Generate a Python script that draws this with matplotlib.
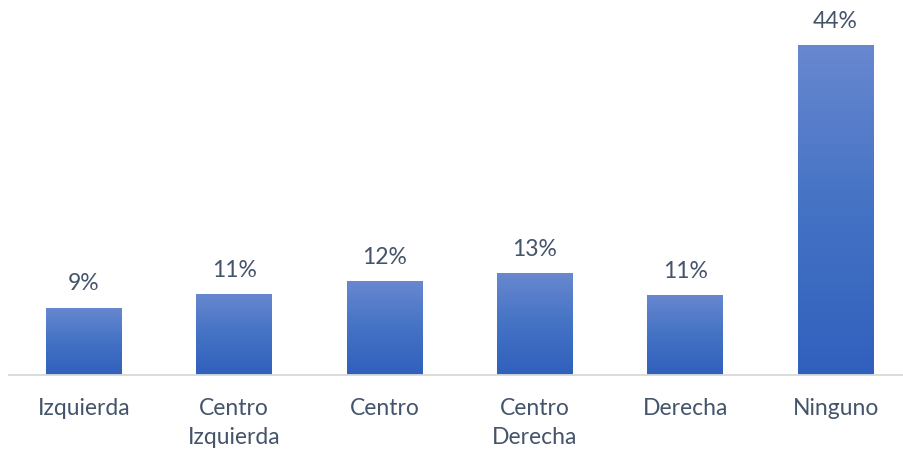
import matplotlib
matplotlib.use('Agg')

import numpy as np
import matplotlib.pyplot as plt
from matplotlib.colors import LinearSegmentedColormap

categories = ['Izquierda', 'Centro\nIzquierda', 'Centro', 'Centro\nDerecha', 'Derecha', 'Ninguno']
values = [8.9, 10.7, 12.4, 13.4, 10.6, 43.6]

text_color = '#44546a'
grad = LinearSegmentedColormap.from_list('bar_grad', ['#3060bd', '#4472c4', '#6888d0'])

fig = plt.figure(figsize=(9.04, 4.51), dpi=100)
fig.patch.set_facecolor('white')
ax = fig.add_axes([8.8 / 904, 76 / 451, 902 / 904, 375 / 451])

x = np.arange(len(categories))
width = 0.505
bars = ax.bar(x, values, width=width, color='none', edgecolor='none', zorder=2)

# vertical gradient for each bar
gradient = np.linspace(0, 1, 256).reshape(-1, 1)
for b in bars:
    x0, y0 = b.get_x(), b.get_y()
    w, h = b.get_width(), b.get_height()
    im = ax.imshow(gradient, cmap=grad, aspect='auto', origin='lower',
                   extent=[x0, x0 + w, y0, y0 + h], zorder=2)
    im.set_clip_path(b)

for xi, v in zip(x, values):
    ax.annotate(f'{v:.0f}%', xy=(xi, v), xytext=(0, 17), textcoords='offset points',
                ha='center', va='center', fontsize=16.5, color=text_color, family='Lato')

ax.set_xlim(-0.5, len(categories) - 0.5)
ax.set_ylim(0, 49.5)
ax.set_xticks(x)
ax.set_xticklabels(categories, fontsize=16.5, color=text_color, family='Lato', linespacing=1.45)
ax.tick_params(axis='x', length=0, pad=16.5)
ax.set_yticks([])

for side in ['top', 'right', 'left']:
    ax.spines[side].set_visible(False)
ax.spines['bottom'].set_color('#d9d9d9')
ax.spines['bottom'].set_linewidth(1.3)
ax.set_facecolor('white')

fig.savefig('out.png', dpi=100, facecolor='white')
plt.close(fig)
